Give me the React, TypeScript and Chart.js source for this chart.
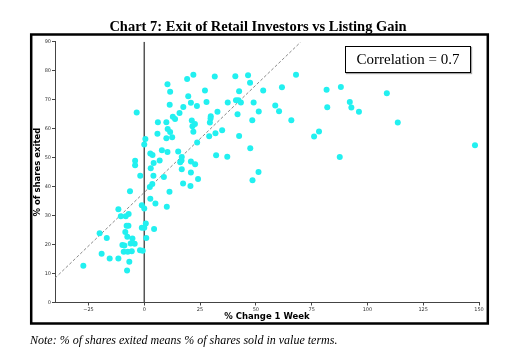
import React, { useEffect, useRef } from 'react';
import { Chart, registerables } from 'chart.js';

Chart.register(...registerables);

const chartTitle = 'Chart 7: Exit of Retail Investors vs Listing Gain';
const xAxisTitle = '% Change 1 Week';
const yAxisTitle = '% of shares exited';
const correlationLabel = 'Correlation = 0.7';
const noteText = 'Note: % of shares exited means % of shares sold in value terms.';

const xTickValues = [-25, 0, 25, 50, 75, 100, 125, 150];
const yTickValues = [0, 10, 20, 30, 40, 50, 60, 70, 80, 90];

const changeOneWeek = [
  -6.4, 2.5, 3.6, 11.3, 2.7, 5.0, -1.1, 0.0, 10.1, -11.6,
  -7.0, -8.3, -10.5, 0.7, -7.1, -7.9, -1.1, 0.0, 4.4, -8.5,
  -20.0, -7.6, -16.8, 0.9, -5.3, -6.1, -4.3, -9.8, -8.9, -1.9,
  -0.7, -9.2, -7.4, -5.6, -19.1, -15.5, -11.6, -6.7, -27.3, -7.7,
  -1.8, 4.1, -3.4, 0.5, 0.0, 6.1, 5.9, -4.1, -4.1, 2.7,
  3.7, 4.2, 2.9, 6.9, 22.0, 19.2, 31.6, 10.4, 11.6, 27.2,
  19.7, 20.9, 23.6, 17.5, 11.4, 27.9, 37.4, 15.8, 12.8, 13.8,
  9.9, 21.3, 22.7, 21.6, 29.8, 29.7, 29.4, 32.8, 10.5, 11.6,
  22.0, 31.9, 34.9, 29.1, 9.9, 12.5, 23.7, 7.9, 10.4, 15.2,
  16.8, 16.7, 32.2, 37.2, 16.1, 20.9, 22.8, 16.8, 20.9, 8.8,
  24.1, 17.4, 20.7, 40.8, 46.5, 47.4, 68.0, 61.7, 53.3, 42.5,
  81.7, 88.1, 41.1, 42.2, 43.3, 49.0, 58.7, 60.4, 51.3, 82.0,
  92.1, 92.8, 96.2, 108.7, 41.8, 48.4, 65.9, 42.5, 78.3, 76.1,
  47.5, 87.6, 51.2, 48.5, 113.6, 148.2,
];

const sharesExited = [
  38.4, 39.9, 40.9, 38.2, 35.8, 34.2, 33.6, 32.4, 33.0, 32.2,
  30.5, 29.8, 29.8, 27.3, 26.5, 26.5, 25.8, 25.8, 25.4, 24.3,
  23.9, 22.7, 22.3, 22.3, 22.1, 20.4, 20.3, 19.8, 19.7, 18.0,
  17.9, 17.5, 17.5, 17.7, 16.8, 15.2, 15.2, 14.1, 12.7, 11.0,
  43.7, 43.7, 65.6, 56.4, 54.5, 62.2, 58.2, 48.9, 47.4, 51.4,
  50.9, 48.1, 46.3, 49.0, 78.6, 77.1, 78.0, 75.3, 72.7, 73.2,
  71.2, 68.9, 67.8, 67.5, 68.2, 69.2, 69.0, 65.4, 64.1, 63.3,
  62.2, 62.8, 61.6, 60.8, 64.3, 63.5, 62.1, 65.8, 59.9, 58.8,
  58.9, 58.4, 59.4, 57.4, 56.7, 57.0, 55.2, 52.5, 51.9, 52.1,
  50.2, 49.0, 50.8, 50.3, 48.4, 48.7, 47.7, 46.0, 44.9, 43.3,
  42.6, 41.1, 40.2, 78.1, 78.4, 75.8, 78.6, 74.3, 73.2, 72.9,
  73.4, 74.4, 69.8, 69.8, 69.0, 69.0, 68.0, 66.0, 65.9, 67.4,
  69.2, 67.3, 65.8, 72.2, 65.0, 62.9, 62.9, 57.5, 59.0, 57.3,
  53.2, 50.2, 45.0, 42.2, 62.1, 54.3,
];

const fitLineX = [-40, 70];
const fitLineY = [8.4, 89.8];
const zeroLineX = [0, 0];
const zeroLineY = [0, 90];

const decorPlugin = {
  id: 'decor',
  beforeDraw(chart: any) {
    const ctx = chart.ctx;
    ctx.save();
    ctx.fillStyle = '#ffffff';
    ctx.fillRect(0, 0, chart.width, chart.height);
    ctx.restore();
  },
  afterDraw(chart: any) {
    const { ctx, chartArea } = chart;
    ctx.save();
    // outer frame
    ctx.strokeStyle = '#000000';
    ctx.lineWidth = 2.5;
    ctx.strokeRect(31.2, 34.5, 456.6, 289);

    // title
    ctx.fillStyle = '#000000';
    ctx.textAlign = 'center';
    ctx.textBaseline = 'alphabetic';
    ctx.font = 'bold 14.5px "Liberation Serif", serif';
    ctx.fillText(chartTitle, 258, 30.5);

    // x axis title
    ctx.font = 'bold 8.5px "DejaVu Sans", sans-serif';
    ctx.textBaseline = 'middle';
    ctx.fillText(xAxisTitle, (chartArea.left + chartArea.right) / 2, 317);

    // y axis title
    ctx.save();
    ctx.translate(37.5, (chartArea.top + chartArea.bottom) / 2);
    ctx.rotate(-Math.PI / 2);
    ctx.fillText(yAxisTitle, 0, 0);
    ctx.restore();

    // correlation box
    ctx.save();
    ctx.shadowColor = 'rgba(0,0,0,0.35)';
    ctx.shadowOffsetX = 1;
    ctx.shadowOffsetY = 1;
    ctx.shadowBlur = 1;
    ctx.fillStyle = '#ffffff';
    ctx.fillRect(345, 46, 126, 27);
    ctx.restore();
    ctx.strokeStyle = '#000000';
    ctx.lineWidth = 1;
    ctx.strokeRect(345.5, 46.5, 125, 26);
    ctx.fillStyle = '#000000';
    ctx.font = '15px "Liberation Serif", serif';
    ctx.textAlign = 'center';
    ctx.textBaseline = 'middle';
    ctx.fillText(correlationLabel, 408, 60);

    // note
    ctx.font = 'italic 12px "Liberation Serif", serif';
    ctx.textAlign = 'left';
    ctx.textBaseline = 'alphabetic';
    ctx.fillText(noteText, 30, 344);
    ctx.restore();
  },
};

const fmtTick = (v: number) => (v < 0 ? '\u2212' + Math.abs(v) : String(v));

export default function App() {
  const ref = useRef<HTMLCanvasElement | null>(null);

  useEffect(() => {
    if (!ref.current) return;
    const points = changeOneWeek.map((x, i) => ({ x, y: sharesExited[i] }));
    const fit = fitLineX.map((x, i) => ({ x, y: fitLineY[i] }));
    const zero = zeroLineX.map((x, i) => ({ x, y: zeroLineY[i] }));
    const tickFont = { family: '"DejaVu Sans", sans-serif', size: 5 };

    const chart = new Chart(ref.current, {
      type: 'scatter',
      data: {
        datasets: [
          {
            label: 'IPOs',
            data: points,
            backgroundColor: '#22f0f0',
            borderWidth: 0,
            pointRadius: 3,
            order: 0,
          },
          {
            type: 'line',
            label: 'fit',
            data: fit,
            borderColor: '#8a8a8a',
            borderWidth: 1,
            borderDash: [3, 2],
            pointRadius: 0,
            showLine: true,
            fill: false,
            order: 1,
          },
          {
            type: 'line',
            label: 'zero',
            data: zero,
            borderColor: '#555555',
            borderWidth: 1.5,
            pointRadius: 0,
            showLine: true,
            fill: false,
            order: 2,
          },
        ] as any,
      },
      options: {
        responsive: false,
        animation: false,
        events: [],
        layout: { padding: { top: 41.7, right: 42, bottom: 0, left: 0 } },
        plugins: {
          legend: { display: false },
          tooltip: { enabled: false },
          title: { display: false },
        },
        scales: {
          x: {
            type: 'linear',
            min: -40,
            max: 150,
            afterBuildTicks: (s: any) => {
              s.ticks = xTickValues.map((value) => ({ value }));
            },
            afterFit: (s: any) => {
              s.height = 351 - 302.5;
            },
            grid: {
              drawOnChartArea: false,
              drawTicks: true,
              tickLength: 3,
              color: '#444444',
            },
            border: { display: true, color: '#444444', width: 1 },
            ticks: {
              font: tickFont,
              color: '#333333',
              padding: 1,
              maxRotation: 0,
              autoSkip: false,
              callback: (v: any) => fmtTick(Number(v)),
            },
          },
          y: {
            type: 'linear',
            min: 0,
            max: 90,
            afterBuildTicks: (s: any) => {
              s.ticks = yTickValues.map((value) => ({ value }));
            },
            afterFit: (s: any) => {
              s.width = 55;
            },
            grid: {
              drawOnChartArea: false,
              drawTicks: true,
              tickLength: 3,
              color: '#444444',
            },
            border: { display: true, color: '#444444', width: 1 },
            ticks: {
              font: tickFont,
              color: '#333333',
              padding: 1,
              autoSkip: false,
              callback: (v: any) => fmtTick(Number(v)),
            },
          },
        },
      },
      plugins: [decorPlugin],
    } as any);

    return () => chart.destroy();
  }, []);

  return (
    <div style={{ position: 'fixed', left: 0, top: 0, width: 521, height: 351, background: '#fff' }}>
      <canvas ref={ref} width={521} height={351} style={{ display: 'block', width: 521, height: 351 }} />
    </div>
  );
}
